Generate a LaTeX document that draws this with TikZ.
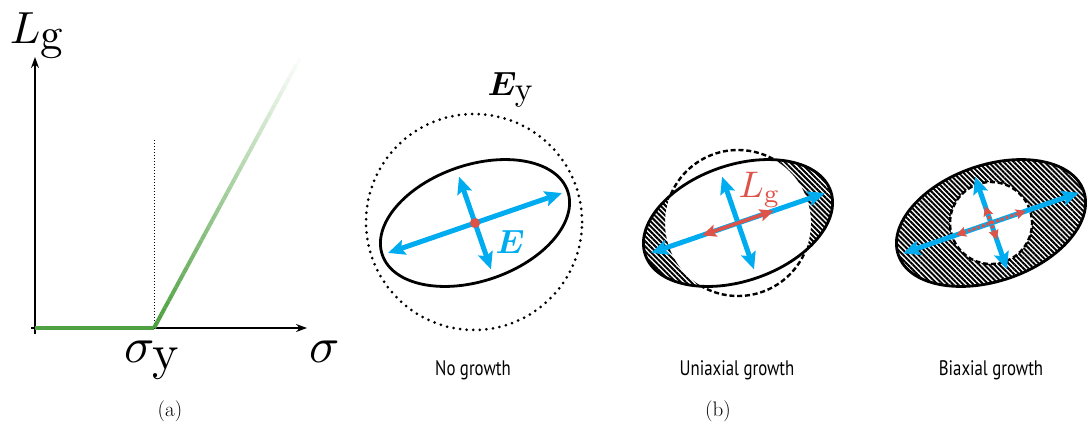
\RequirePackage{fix-cm}
\documentclass[tikz,border=0pt]{standalone}
\usepackage{amsmath,bm}
\usepackage{fontspec}
\newfontfamily\labelfont[FakeStretch=0.8]{PT Sans}
\usetikzlibrary{arrows.meta,patterns.meta,calc}
\definecolor{growgreen}{RGB}{78,160,64}
\definecolor{strainblue}{RGB}{0,172,240}
\definecolor{growred}{RGB}{222,82,72}

\begin{document}
\begin{tikzpicture}[x=1pt,y=1pt,
    axis/.style={line width=1.5pt,-{Stealth[length=11pt,width=8pt]}},
    outline/.style={line width=2.8pt},
    dotcircle/.style={line width=3pt,line cap=round,dash pattern=on 0pt off 6.6pt},
    dashcircle/.style={line width=2.4pt,dash pattern=on 5pt off 2.8pt},
    hatched/.style={pattern={Lines[angle=-45,distance=3.6pt,line width=2pt]}},
    bluearrow/.style={strainblue,line width=5pt,
      {Stealth[length=17pt,width=15pt,inset=3pt]}-{Stealth[length=17pt,width=15pt,inset=3pt]}},
    redarrow/.style={growred,line width=3.5pt,
      {Stealth[length=14pt,width=12pt,inset=2.5pt]}-{Stealth[length=14pt,width=12pt,inset=2.5pt]}},
    smallred/.style={growred,line width=3pt,dash pattern=on 3pt off 2pt,
      {Stealth[length=10pt,width=10pt,inset=2pt]}-{Stealth[length=10pt,width=10pt,inset=2pt]}},
    mathlabel/.style={anchor=base west,inner sep=0pt,font=\normalsize},
    caselabel/.style={anchor=base,inner sep=0pt,font=\labelfont\fontsize{21}{25}\selectfont},
    caption/.style={inner sep=0pt,font=\fontsize{21}{25}\selectfont}
  ]
  \useasboundingbox (0,0) rectangle (1087,-426);

  % (a) growth against stress
  \coordinate (O) at (35,-328);
  \coordinate (Y) at (154,-328);
  \coordinate (T) at (300,-58);
  \draw[axis] (35,-334) -- (35,-57);
  \draw[axis] (31,-328) -- (307,-328);
  \draw[dotted,line width=1pt] (154,-140) -- (Y);
  \draw[growgreen,line width=4pt] (O) -- (Y);
  \foreach \i [evaluate=\i as \p using 100-2.5*\i,
               evaluate=\i as \a using \i/40,
               evaluate=\i as \b using (\i+1)/40] in {0,...,39}
    \draw[growgreen!\p!white,line width=4pt] ($(Y)!\a!(T)$) -- ($(Y)!\b!(T)$);
  \node[mathlabel,scale=4.5] (Lg) at (9,-43) {$L_{\textstyle\mathrm{g}}$};
  \node[mathlabel,scale=5] (sy) at (123,-362) {$\sigma_{\textstyle\mathrm{y}}$};
  \node[mathlabel,scale=5] (s) at (308,-362) {$\sigma$};
  \node[caption] (capa) at (170,-411) {(a)};

  % (b) no growth
  \coordinate (c1) at (475,-223);
  \draw[dotcircle] (474,-222) circle (108);
  \begin{scope}[shift={(c1)},rotate=19]
    \draw[outline] (0,0) ellipse (98 and 58);
    \draw[bluearrow] (-92,0) -- (92,0);
    \draw[bluearrow] (0,-49) -- (0,49);
    \fill[growred] (0,0) circle (5);
  \end{scope}
  \node[mathlabel,scale=3.35] (Ey) at (487,-95) {$\bm{E}_{\textstyle\mathrm{y}}$};
  \node[mathlabel,strainblue,scale=3.35] (E) at (495,-253) {$\bm{E}$};
  \node[caselabel] (nog) at (473,-375) {No growth};

  % (b) uniaxial growth
  \coordinate (c2) at (738,-223);
  \draw[dashcircle] (c2) circle (73);
  \begin{scope}[shift={(c2)},rotate=19]
    \begin{scope}
      \clip (0,0) ellipse (98 and 58);
      \fill[white] (0,0) ellipse (98 and 58);
      \fill[hatched,even odd rule] (0,0) ellipse (98 and 58) (0,0) circle (73);
    \end{scope}
    \draw[outline] (0,0) ellipse (98 and 58);
    \draw[bluearrow] (-92,0) -- (92,0);
    \draw[bluearrow] (0,-49) -- (0,49);
    \draw[redarrow] (-38,0) -- (38,0);
  \end{scope}
  \node[mathlabel,growred,scale=3.7] (Lgr) at (738,-197) {$L_{\mathrm{g}}$};
  \node[caselabel] (uni) at (737,-375) {Uniaxial growth};

  % (b) biaxial growth
  \coordinate (c3) at (991,-223);
  \begin{scope}[shift={(c3)},rotate=19]
    \fill[hatched,even odd rule] (0,0) ellipse (98 and 58) (0,0) circle (41);
    \draw[dashcircle] (0,0) circle (41);
    \draw[outline] (0,0) ellipse (98 and 58);
    \draw[bluearrow] (-93,0) -- (93,0);
    \draw[bluearrow] (0,-49) -- (0,49);
    \draw[smallred] (-37,0) -- (37,0);
    \draw[smallred] (0,-18) -- (0,18);
  \end{scope}
  \node[caselabel] (bi) at (991,-375) {Biaxial growth};
  \node[caption] (capb) at (718,-411) {(b)};
\end{tikzpicture}
\end{document}
